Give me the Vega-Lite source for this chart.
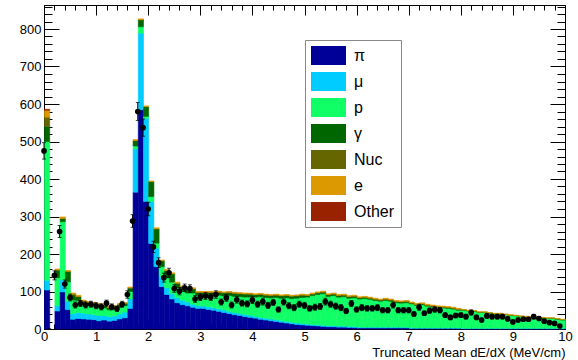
{
  "$schema": "https://vega.github.io/schema/vega-lite/v6.json",
  "width": 521,
  "height": 324,
  "autosize": {"type": "none"},
  "padding": {"left": 44, "top": 5, "right": 13, "bottom": 31},
  "background": "white",
  "config": {
    "view": {"stroke": "black", "strokeWidth": 1},
    "axis": {"grid": false, "domainColor": "black", "domainWidth": 1, "tickColor": "black", "tickWidth": 1, "labelColor": "black", "labelFont": "Liberation Sans", "labelFontSize": 13, "titleFont": "Liberation Sans", "titleColor": "black", "titleFontWeight": "normal", "labelOverlap": false, "labelFlush": false, "labelBound": false}
  },
  "data": {"values": [
    {"x":0.0,"a_pi":104,"b_mu":26,"c_p":370,"d_gamma":40,"e_nuc":25,"f_e":18,"g_other":3,"d":475,"err":22},
    {"x":0.1,"a_pi":0,"b_mu":0,"c_p":0,"d_gamma":0,"e_nuc":0,"f_e":0,"g_other":0,"d":null,"err":null},
    {"x":0.2,"a_pi":48,"b_mu":14,"c_p":75,"d_gamma":20,"e_nuc":1,"f_e":2,"g_other":0,"d":143,"err":12},
    {"x":0.3,"a_pi":99,"b_mu":32,"c_p":155,"d_gamma":8,"e_nuc":1,"f_e":4,"g_other":0,"d":260,"err":16},
    {"x":0.4,"a_pi":52,"b_mu":22,"c_p":52,"d_gamma":27,"e_nuc":1,"f_e":2,"g_other":0,"d":120,"err":11},
    {"x":0.5,"a_pi":26,"b_mu":15,"c_p":36,"d_gamma":14,"e_nuc":2,"f_e":3,"g_other":0,"d":84,"err":9},
    {"x":0.6,"a_pi":28,"b_mu":16,"c_p":32,"d_gamma":10,"e_nuc":1,"f_e":3,"g_other":0,"d":64,"err":8},
    {"x":0.7,"a_pi":27,"b_mu":15,"c_p":24,"d_gamma":8,"e_nuc":1,"f_e":2,"g_other":0,"d":68,"err":8},
    {"x":0.8,"a_pi":26,"b_mu":14,"c_p":23,"d_gamma":7,"e_nuc":1,"f_e":2,"g_other":0,"d":64,"err":8},
    {"x":0.9,"a_pi":25,"b_mu":13,"c_p":23,"d_gamma":7,"e_nuc":1,"f_e":2,"g_other":0,"d":66,"err":8},
    {"x":1.0,"a_pi":22,"b_mu":14,"c_p":22,"d_gamma":7,"e_nuc":1,"f_e":2,"g_other":0,"d":62,"err":8},
    {"x":1.1,"a_pi":24,"b_mu":12,"c_p":20,"d_gamma":7,"e_nuc":1,"f_e":2,"g_other":0,"d":59,"err":8},
    {"x":1.2,"a_pi":21,"b_mu":12,"c_p":18,"d_gamma":6,"e_nuc":1,"f_e":2,"g_other":0,"d":69,"err":8},
    {"x":1.3,"a_pi":23,"b_mu":12,"c_p":18,"d_gamma":6,"e_nuc":1,"f_e":2,"g_other":0,"d":59,"err":8},
    {"x":1.4,"a_pi":27,"b_mu":13,"c_p":18,"d_gamma":7,"e_nuc":1,"f_e":2,"g_other":0,"d":54,"err":7},
    {"x":1.5,"a_pi":30,"b_mu":15,"c_p":17,"d_gamma":6,"e_nuc":1,"f_e":2,"g_other":0,"d":66,"err":8},
    {"x":1.6,"a_pi":55,"b_mu":25,"c_p":20,"d_gamma":9,"e_nuc":1,"f_e":2,"g_other":0,"d":92,"err":10},
    {"x":1.7,"a_pi":365,"b_mu":115,"c_p":8,"d_gamma":14,"e_nuc":1,"f_e":2,"g_other":0,"d":288,"err":17},
    {"x":1.8,"a_pi":585,"b_mu":204,"c_p":17,"d_gamma":18,"e_nuc":1,"f_e":2,"g_other":0,"d":580,"err":24},
    {"x":1.9,"a_pi":340,"b_mu":222,"c_p":5,"d_gamma":26,"e_nuc":0,"f_e":2,"g_other":0,"d":537,"err":23},
    {"x":2.0,"a_pi":228,"b_mu":112,"c_p":13,"d_gamma":40,"e_nuc":0,"f_e":2,"g_other":0,"d":320,"err":18},
    {"x":2.1,"a_pi":166,"b_mu":50,"c_p":13,"d_gamma":38,"e_nuc":0,"f_e":3,"g_other":0,"d":219,"err":15},
    {"x":2.2,"a_pi":113,"b_mu":27,"c_p":26,"d_gamma":16,"e_nuc":0,"f_e":2,"g_other":0,"d":177,"err":13},
    {"x":2.3,"a_pi":92,"b_mu":18,"c_p":26,"d_gamma":20,"e_nuc":0,"f_e":3,"g_other":0,"d":137,"err":12},
    {"x":2.4,"a_pi":80,"b_mu":15,"c_p":30,"d_gamma":22,"e_nuc":0,"f_e":3,"g_other":0,"d":150,"err":12},
    {"x":2.5,"a_pi":70,"b_mu":14,"c_p":26,"d_gamma":12,"e_nuc":0,"f_e":3,"g_other":0,"d":108,"err":10},
    {"x":2.6,"a_pi":65,"b_mu":12,"c_p":24,"d_gamma":11,"e_nuc":0,"f_e":3,"g_other":0,"d":101,"err":10},
    {"x":2.7,"a_pi":62,"b_mu":10,"c_p":24,"d_gamma":13,"e_nuc":0,"f_e":3,"g_other":0,"d":110,"err":10},
    {"x":2.8,"a_pi":58,"b_mu":8,"c_p":30,"d_gamma":11,"e_nuc":0,"f_e":3,"g_other":0,"d":108,"err":10},
    {"x":2.9,"a_pi":55,"b_mu":7,"c_p":28,"d_gamma":8,"e_nuc":0,"f_e":2,"g_other":0,"d":80,"err":9},
    {"x":3.0,"a_pi":55,"b_mu":7,"c_p":27,"d_gamma":8,"e_nuc":1,"f_e":2,"g_other":0,"d":85,"err":9},
    {"x":3.1,"a_pi":52,"b_mu":7,"c_p":30,"d_gamma":8,"e_nuc":1,"f_e":2,"g_other":0,"d":88,"err":9},
    {"x":3.2,"a_pi":50,"b_mu":7,"c_p":32,"d_gamma":8,"e_nuc":1,"f_e":2,"g_other":0,"d":85,"err":9},
    {"x":3.3,"a_pi":47,"b_mu":7,"c_p":36,"d_gamma":8,"e_nuc":1,"f_e":2,"g_other":0,"d":92,"err":10},
    {"x":3.4,"a_pi":44,"b_mu":7,"c_p":37,"d_gamma":8,"e_nuc":1,"f_e":2,"g_other":0,"d":72,"err":8},
    {"x":3.5,"a_pi":41,"b_mu":6,"c_p":42,"d_gamma":8,"e_nuc":1,"f_e":2,"g_other":0,"d":83,"err":9},
    {"x":3.6,"a_pi":38,"b_mu":6,"c_p":43,"d_gamma":8,"e_nuc":1,"f_e":2,"g_other":0,"d":64,"err":8},
    {"x":3.7,"a_pi":36,"b_mu":6,"c_p":44,"d_gamma":8,"e_nuc":1,"f_e":2,"g_other":0,"d":78,"err":9},
    {"x":3.8,"a_pi":33,"b_mu":6,"c_p":46,"d_gamma":8,"e_nuc":1,"f_e":2,"g_other":0,"d":69,"err":8},
    {"x":3.9,"a_pi":31,"b_mu":6,"c_p":48,"d_gamma":8,"e_nuc":1,"f_e":2,"g_other":0,"d":67,"err":8},
    {"x":4.0,"a_pi":29,"b_mu":5,"c_p":51,"d_gamma":6,"e_nuc":1,"f_e":2,"g_other":0,"d":77,"err":9},
    {"x":4.1,"a_pi":26,"b_mu":5,"c_p":55,"d_gamma":6,"e_nuc":1,"f_e":2,"g_other":0,"d":66,"err":8},
    {"x":4.2,"a_pi":24,"b_mu":5,"c_p":55,"d_gamma":6,"e_nuc":1,"f_e":2,"g_other":0,"d":73,"err":9},
    {"x":4.3,"a_pi":22,"b_mu":5,"c_p":56,"d_gamma":6,"e_nuc":1,"f_e":2,"g_other":0,"d":63,"err":8},
    {"x":4.4,"a_pi":20,"b_mu":5,"c_p":59,"d_gamma":6,"e_nuc":1,"f_e":2,"g_other":0,"d":71,"err":8},
    {"x":4.5,"a_pi":18,"b_mu":4,"c_p":60,"d_gamma":6,"e_nuc":1,"f_e":2,"g_other":0,"d":52,"err":7},
    {"x":4.6,"a_pi":16,"b_mu":4,"c_p":63,"d_gamma":6,"e_nuc":1,"f_e":2,"g_other":0,"d":72,"err":8},
    {"x":4.7,"a_pi":14,"b_mu":4,"c_p":63,"d_gamma":6,"e_nuc":1,"f_e":2,"g_other":0,"d":62,"err":8},
    {"x":4.8,"a_pi":12,"b_mu":4,"c_p":66,"d_gamma":6,"e_nuc":1,"f_e":2,"g_other":0,"d":57,"err":8},
    {"x":4.9,"a_pi":11,"b_mu":4,"c_p":69,"d_gamma":6,"e_nuc":1,"f_e":2,"g_other":0,"d":66,"err":8},
    {"x":5.0,"a_pi":10,"b_mu":3,"c_p":72,"d_gamma":4,"e_nuc":1,"f_e":2,"g_other":0,"d":63,"err":8},
    {"x":5.1,"a_pi":9,"b_mu":3,"c_p":77,"d_gamma":4,"e_nuc":1,"f_e":2,"g_other":0,"d":55,"err":7},
    {"x":5.2,"a_pi":8,"b_mu":3,"c_p":81,"d_gamma":4,"e_nuc":1,"f_e":2,"g_other":0,"d":58,"err":8},
    {"x":5.3,"a_pi":7,"b_mu":3,"c_p":84,"d_gamma":4,"e_nuc":1,"f_e":2,"g_other":0,"d":60,"err":8},
    {"x":5.4,"a_pi":6,"b_mu":3,"c_p":78,"d_gamma":4,"e_nuc":1,"f_e":2,"g_other":0,"d":73,"err":9},
    {"x":5.5,"a_pi":6,"b_mu":3,"c_p":80,"d_gamma":4,"e_nuc":1,"f_e":2,"g_other":0,"d":66,"err":8},
    {"x":5.6,"a_pi":5,"b_mu":3,"c_p":77,"d_gamma":4,"e_nuc":1,"f_e":2,"g_other":0,"d":61,"err":8},
    {"x":5.7,"a_pi":5,"b_mu":3,"c_p":78,"d_gamma":4,"e_nuc":1,"f_e":2,"g_other":0,"d":57,"err":8},
    {"x":5.8,"a_pi":4,"b_mu":3,"c_p":75,"d_gamma":4,"e_nuc":1,"f_e":2,"g_other":0,"d":48,"err":7},
    {"x":5.9,"a_pi":4,"b_mu":3,"c_p":76,"d_gamma":4,"e_nuc":1,"f_e":2,"g_other":0,"d":68,"err":8},
    {"x":6.0,"a_pi":3,"b_mu":2,"c_p":75,"d_gamma":3,"e_nuc":1,"f_e":2,"g_other":0,"d":52,"err":7},
    {"x":6.1,"a_pi":3,"b_mu":2,"c_p":76,"d_gamma":3,"e_nuc":1,"f_e":2,"g_other":0,"d":57,"err":8},
    {"x":6.2,"a_pi":3,"b_mu":2,"c_p":74,"d_gamma":3,"e_nuc":1,"f_e":2,"g_other":0,"d":55,"err":7},
    {"x":6.3,"a_pi":3,"b_mu":2,"c_p":71,"d_gamma":3,"e_nuc":1,"f_e":2,"g_other":0,"d":55,"err":7},
    {"x":6.4,"a_pi":3,"b_mu":2,"c_p":69,"d_gamma":3,"e_nuc":1,"f_e":2,"g_other":0,"d":57,"err":8},
    {"x":6.5,"a_pi":3,"b_mu":2,"c_p":71,"d_gamma":3,"e_nuc":1,"f_e":2,"g_other":0,"d":50,"err":7},
    {"x":6.6,"a_pi":3,"b_mu":2,"c_p":69,"d_gamma":3,"e_nuc":1,"f_e":2,"g_other":0,"d":50,"err":7},
    {"x":6.7,"a_pi":3,"b_mu":2,"c_p":65,"d_gamma":3,"e_nuc":1,"f_e":2,"g_other":0,"d":64,"err":8},
    {"x":6.8,"a_pi":3,"b_mu":2,"c_p":64,"d_gamma":3,"e_nuc":1,"f_e":2,"g_other":0,"d":50,"err":7},
    {"x":6.9,"a_pi":3,"b_mu":2,"c_p":65,"d_gamma":3,"e_nuc":1,"f_e":2,"g_other":0,"d":50,"err":7},
    {"x":7.0,"a_pi":2,"b_mu":1,"c_p":64,"d_gamma":2,"e_nuc":1,"f_e":2,"g_other":0,"d":50,"err":7},
    {"x":7.1,"a_pi":2,"b_mu":1,"c_p":60,"d_gamma":2,"e_nuc":1,"f_e":2,"g_other":0,"d":40,"err":6},
    {"x":7.2,"a_pi":2,"b_mu":1,"c_p":62,"d_gamma":2,"e_nuc":1,"f_e":2,"g_other":0,"d":58,"err":8},
    {"x":7.3,"a_pi":2,"b_mu":1,"c_p":58,"d_gamma":2,"e_nuc":1,"f_e":2,"g_other":0,"d":42,"err":6},
    {"x":7.4,"a_pi":2,"b_mu":1,"c_p":56,"d_gamma":2,"e_nuc":1,"f_e":2,"g_other":0,"d":49,"err":7},
    {"x":7.5,"a_pi":2,"b_mu":1,"c_p":54,"d_gamma":2,"e_nuc":1,"f_e":2,"g_other":0,"d":52,"err":7},
    {"x":7.6,"a_pi":2,"b_mu":1,"c_p":53,"d_gamma":2,"e_nuc":1,"f_e":2,"g_other":0,"d":50,"err":7},
    {"x":7.7,"a_pi":2,"b_mu":1,"c_p":52,"d_gamma":2,"e_nuc":1,"f_e":2,"g_other":0,"d":37,"err":6},
    {"x":7.8,"a_pi":2,"b_mu":1,"c_p":50,"d_gamma":2,"e_nuc":1,"f_e":2,"g_other":0,"d":31,"err":6},
    {"x":7.9,"a_pi":2,"b_mu":1,"c_p":47,"d_gamma":2,"e_nuc":1,"f_e":2,"g_other":0,"d":36,"err":6},
    {"x":8.0,"a_pi":1,"b_mu":1,"c_p":48,"d_gamma":1,"e_nuc":0,"f_e":1,"g_other":0,"d":37,"err":6},
    {"x":8.1,"a_pi":1,"b_mu":1,"c_p":46,"d_gamma":1,"e_nuc":0,"f_e":1,"g_other":0,"d":33,"err":6},
    {"x":8.2,"a_pi":1,"b_mu":1,"c_p":45,"d_gamma":1,"e_nuc":0,"f_e":1,"g_other":0,"d":44,"err":7},
    {"x":8.3,"a_pi":1,"b_mu":1,"c_p":42,"d_gamma":1,"e_nuc":0,"f_e":1,"g_other":0,"d":31,"err":6},
    {"x":8.4,"a_pi":1,"b_mu":1,"c_p":42,"d_gamma":1,"e_nuc":0,"f_e":1,"g_other":0,"d":24,"err":5},
    {"x":8.5,"a_pi":1,"b_mu":1,"c_p":40,"d_gamma":1,"e_nuc":0,"f_e":1,"g_other":0,"d":35,"err":6},
    {"x":8.6,"a_pi":1,"b_mu":1,"c_p":38,"d_gamma":1,"e_nuc":0,"f_e":1,"g_other":0,"d":33,"err":6},
    {"x":8.7,"a_pi":1,"b_mu":1,"c_p":38,"d_gamma":1,"e_nuc":0,"f_e":1,"g_other":0,"d":33,"err":6},
    {"x":8.8,"a_pi":1,"b_mu":1,"c_p":36,"d_gamma":1,"e_nuc":0,"f_e":1,"g_other":0,"d":33,"err":6},
    {"x":8.9,"a_pi":1,"b_mu":1,"c_p":34,"d_gamma":1,"e_nuc":0,"f_e":1,"g_other":0,"d":27,"err":5},
    {"x":9.0,"a_pi":1,"b_mu":1,"c_p":33,"d_gamma":1,"e_nuc":0,"f_e":1,"g_other":0,"d":19,"err":4},
    {"x":9.1,"a_pi":1,"b_mu":1,"c_p":31,"d_gamma":1,"e_nuc":0,"f_e":1,"g_other":0,"d":24,"err":5},
    {"x":9.2,"a_pi":1,"b_mu":1,"c_p":30,"d_gamma":1,"e_nuc":0,"f_e":1,"g_other":0,"d":26,"err":5},
    {"x":9.3,"a_pi":1,"b_mu":1,"c_p":29,"d_gamma":1,"e_nuc":0,"f_e":1,"g_other":0,"d":26,"err":5},
    {"x":9.4,"a_pi":1,"b_mu":1,"c_p":28,"d_gamma":1,"e_nuc":0,"f_e":1,"g_other":0,"d":33,"err":6},
    {"x":9.5,"a_pi":1,"b_mu":1,"c_p":27,"d_gamma":1,"e_nuc":0,"f_e":1,"g_other":0,"d":28,"err":5},
    {"x":9.6,"a_pi":1,"b_mu":1,"c_p":26,"d_gamma":1,"e_nuc":0,"f_e":1,"g_other":0,"d":21,"err":5},
    {"x":9.7,"a_pi":1,"b_mu":1,"c_p":26,"d_gamma":1,"e_nuc":0,"f_e":1,"g_other":0,"d":17,"err":4},
    {"x":9.8,"a_pi":1,"b_mu":1,"c_p":24,"d_gamma":1,"e_nuc":0,"f_e":1,"g_other":0,"d":15,"err":4},
    {"x":9.9,"a_pi":1,"b_mu":1,"c_p":22,"d_gamma":1,"e_nuc":0,"f_e":1,"g_other":0,"d":8,"err":3}
  ]},
  "resolve": {"scale": {"x": "shared", "y": "shared"}, "axis": {"x": "independent", "y": "independent"}},
  "layer": [
    {
      "transform": [{"fold": ["a_pi", "b_mu", "c_p", "d_gamma", "e_nuc", "f_e", "g_other"], "as": ["sp", "n"]}, {"filter": "datum.n > 0"}],
      "mark": {"type": "bar", "binSpacing": 0, "strokeWidth": 0.6},
      "encoding": {
        "x": {"field": "x", "type": "quantitative", "bin": {"binned": true, "step": 0.1},
              "scale": {"domain": [0, 10], "nice": false, "zero": false},
              "axis": {"orient": "bottom", "values": [0,0.2,0.4,0.6,0.8,1,1.2,1.4,1.6,1.8,2,2.2,2.4,2.6,2.8,3,3.2,3.4,3.6,3.8,4,4.2,4.4,4.6,4.8,5,5.2,5.4,5.6,5.8,6,6.2,6.4,6.6,6.8,7,7.2,7.4,7.6,7.8,8,8.2,8.4,8.6,8.8,9,9.2,9.4,9.6,9.8,10],
                       "labelExpr": "abs(datum.value - round(datum.value)) < 0.01 ? '' + round(datum.value) : ''",
                       "tickSize": {"condition": {"test": "abs(datum.value - round(datum.value)) < 0.01", "value": -10}, "value": -5},
                       "labelPadding": 11,
                       "title": "Truncated Mean dE/dX (MeV/cm)", "titleAnchor": "end", "titleFontSize": 13, "titlePadding": -2}},
        "y": {"field": "n", "type": "quantitative", "stack": "zero",
              "scale": {"domain": [0, 864], "nice": false, "zero": true},
              "axis": {"orient": "left", "values": [0,20,40,60,80,100,120,140,160,180,200,220,240,260,280,300,320,340,360,380,400,420,440,460,480,500,520,540,560,580,600,620,640,660,680,700,720,740,760,780,800,820,840,860],
                       "labelExpr": "datum.value % 100 === 0 ? '' + datum.value : ''",
                       "tickSize": {"condition": {"test": "datum.value % 100 === 0", "value": -15}, "value": -8},
                       "labelPadding": 18, "title": null}},
        "order": {"field": "sp", "type": "ordinal", "sort": "ascending"},
        "color": {"field": "sp", "type": "nominal",
                  "scale": {"domain": ["a_pi", "b_mu", "c_p", "d_gamma", "e_nuc", "f_e", "g_other"],
                            "range": ["#000099", "#00ccff", "#11ff66", "#006600", "#666600", "#dd9900", "#992200"]},
                  "legend": {"orient": "none", "legendX": 261, "legendY": 35, "direction": "vertical", "title": null,
                             "symbolType": "M-1.842,-1L1.842,-1L1.842,1L-1.842,1Z", "symbolSize": 361, "symbolOffset": 8, "symbolStrokeWidth": 0, "symbolOpacity": 1,
                             "labelFont": "Liberation Sans", "labelFontSize": 16, "labelColor": "black", "labelOffset": 16, "rowPadding": 7,
                             "padding": 6, "strokeColor": "#888888", "fillColor": "white",
                             "labelExpr": "datum.label == 'a_pi' ? 'π' : datum.label == 'b_mu' ? 'μ' : datum.label == 'c_p' ? 'p' : datum.label == 'd_gamma' ? 'γ' : datum.label == 'e_nuc' ? 'Nuc' : datum.label == 'f_e' ? 'e' : 'Other\u00a0\u00a0\u00a0\u00a0\u00a0\u00a0\u00a0\u00a0\u00a0'"}},
        "stroke": {"field": "sp", "type": "nominal", "legend": null,
                   "scale": {"domain": ["a_pi", "b_mu", "c_p", "d_gamma", "e_nuc", "f_e", "g_other"],
                             "range": ["#000099", "#00ccff", "#11ff66", "#006600", "#666600", "#dd9900", "#992200"]}}
      }
    },
    {
      "mark": {"type": "errorbar", "color": "black", "ticks": {"size": 4, "color": "black"}, "rule": {"strokeWidth": 1}},
      "encoding": {
        "x": {"field": "x", "type": "quantitative", "bin": {"binned": true, "step": 0.1}, "bandPosition": 0.5, "axis": null},
        "y": {"field": "d", "type": "quantitative", "axis": null},
        "yError": {"field": "err"}
      }
    },
    {
      "mark": {"type": "point", "filled": true, "color": "black", "size": 32, "opacity": 1},
      "encoding": {
        "x": {"field": "x", "type": "quantitative", "bin": {"binned": true, "step": 0.1}, "bandPosition": 0.5,
              "axis": {"orient": "top", "values": [0,0.2,0.4,0.6,0.8,1,1.2,1.4,1.6,1.8,2,2.2,2.4,2.6,2.8,3,3.2,3.4,3.6,3.8,4,4.2,4.4,4.6,4.8,5,5.2,5.4,5.6,5.8,6,6.2,6.4,6.6,6.8,7,7.2,7.4,7.6,7.8,8,8.2,8.4,8.6,8.8,9,9.2,9.4,9.6,9.8,10],
                       "labels": false, "title": null,
                       "tickSize": {"condition": {"test": "abs(datum.value - round(datum.value)) < 0.01", "value": -10}, "value": -5}}},
        "y": {"field": "d", "type": "quantitative",
              "axis": {"orient": "right", "values": [0,20,40,60,80,100,120,140,160,180,200,220,240,260,280,300,320,340,360,380,400,420,440,460,480,500,520,540,560,580,600,620,640,660,680,700,720,740,760,780,800,820,840,860],
                       "labels": false, "title": null,
                       "tickSize": {"condition": {"test": "datum.value % 100 === 0", "value": -15}, "value": -8}}}
      }
    }
  ]
}
